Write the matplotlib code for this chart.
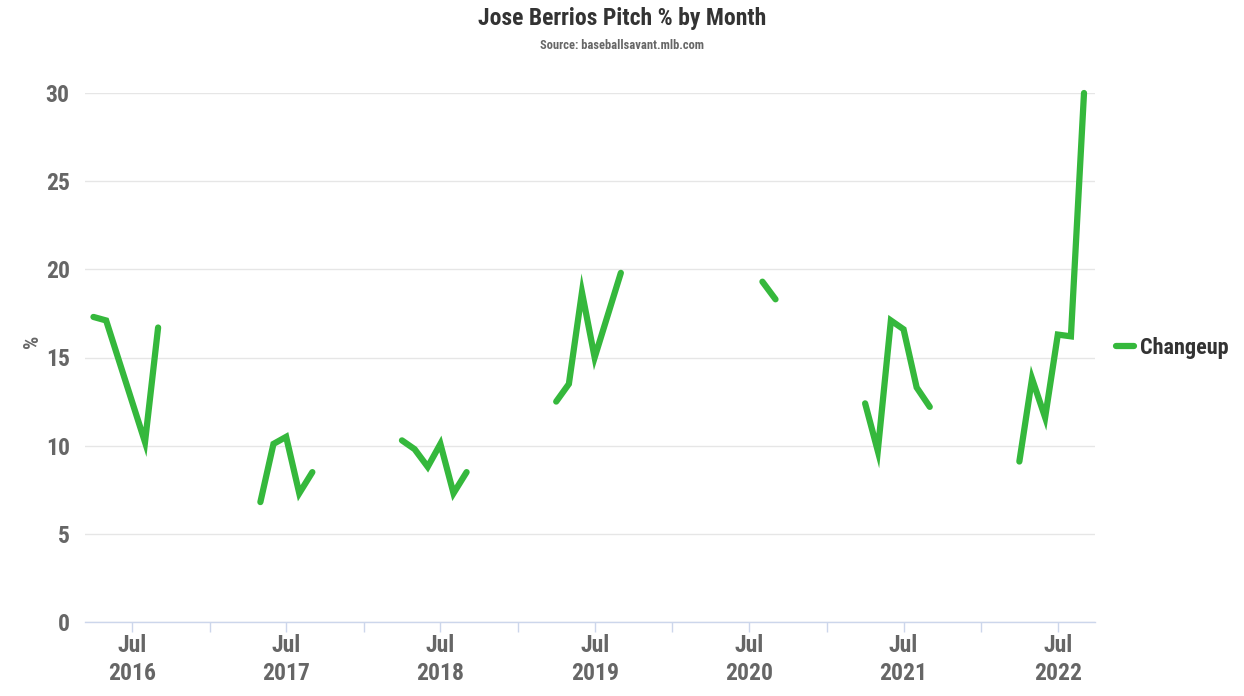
import numpy as np
import pandas as pd
import matplotlib
matplotlib.use('Agg')
import matplotlib.pyplot as plt
import matplotlib.dates as mdates

plt.rcParams['font.family'] = ['Roboto Condensed', 'Roboto', 'DejaVu Sans']
plt.rcParams['font.weight'] = 'bold'

# monthly changeup usage (%), seasons only
months = ['2016-04', '2016-05', '2016-08', '2016-09',
          '2017-05', '2017-06', '2017-07', '2017-08', '2017-09',
          '2018-04', '2018-05', '2018-06', '2018-07', '2018-08', '2018-09',
          '2019-04', '2019-05', '2019-06', '2019-07', '2019-08', '2019-09',
          '2020-08', '2020-09',
          '2021-04', '2021-05', '2021-06', '2021-07', '2021-08', '2021-09',
          '2022-04', '2022-05', '2022-06', '2022-07', '2022-08', '2022-09']
changeup = [17.3, 17.1, 10.2, 16.7,
            6.8, 10.1, 10.5, 7.3, 8.5,
            10.3, 9.8, 8.8, 10.1, 7.3, 8.5,
            12.5, 13.5, 18.7, 15.0, 17.4, 19.8,
            19.3, 18.3,
            12.4, 9.7, 17.1, 16.6, 13.3, 12.2,
            9.1, 13.8, 11.6, 16.3, 16.2, 30.0]
years = list(range(2016, 2023))
y_ticks = [0, 5, 10, 15, 20, 25, 30]

green = '#35b83c'
df = pd.DataFrame({'month': pd.to_datetime(months), 'pct': changeup})

fig = plt.figure(figsize=(12.44, 6.96), dpi=100)
ax = fig.add_axes([85 / 1244, 74 / 696, 1010 / 1244, 529 / 696])

# one line per season so the off-season months stay empty
first = True
for yr, grp in df.groupby(df['month'].dt.year):
    ax.plot(grp['month'], grp['pct'], color=green, lw=4.5,
            solid_capstyle='round', solid_joinstyle='miter', clip_on=False,
            label='Changeup' if first else None)
    first = False

ax.set_xlim(pd.Timestamp('2016-03-12'), pd.Timestamp('2022-09-27'))
ax.set_ylim(0, 30)
ax.set_yticks(y_ticks)
ax.set_yticklabels([str(v) for v in y_ticks])

ax.set_xticks([pd.Timestamp(f'{y}-07-01') for y in years])
ax.set_xticklabels([f'Jul\n{y}' for y in years])
ax.set_xticks([pd.Timestamp(f'{y}-01-01') for y in years[1:]], minor=True)

ax.grid(axis='y', color='#e6e6e6', lw=1)
ax.set_axisbelow(True)
for s in ['top', 'right', 'left']:
    ax.spines[s].set_visible(False)
ax.spines['bottom'].set_color('#ccd6eb')
ax.spines['bottom'].set_linewidth(1)

ax.tick_params(axis='y', length=0, labelsize=17, labelcolor='#666666', pad=11)
ax.tick_params(axis='x', which='both', length=7, color='#ccd6eb', width=1,
               labelsize=17, labelcolor='#666666', pad=2)
for lbl in ax.get_xticklabels() + ax.get_yticklabels():
    lbl.set_fontweight('bold')
    lbl.set_linespacing(1.25)

ax.set_ylabel('%', fontsize=15, color='#666666', fontweight='bold', labelpad=4)
ax.yaxis.set_label_coords(-0.043, 0.53)

fig.text(0.5, 0.973, 'Jose Berrios Pitch % by Month', ha='center', va='center',
         fontsize=17, fontweight='bold', color='#333333')
fig.text(0.5, 0.935, 'Source: baseballsavant.mlb.com', ha='center', va='center',
         fontsize=9, fontweight='bold', color='#666666')

leg = ax.legend(loc='center left', bbox_to_anchor=(1.001, 0.518), frameon=False,
                handlelength=0.8, handletextpad=0.3, fontsize=16)
for t in leg.get_texts():
    t.set_color('#333333')
    t.set_fontweight('bold')

fig.savefig('out.png', dpi=100)
